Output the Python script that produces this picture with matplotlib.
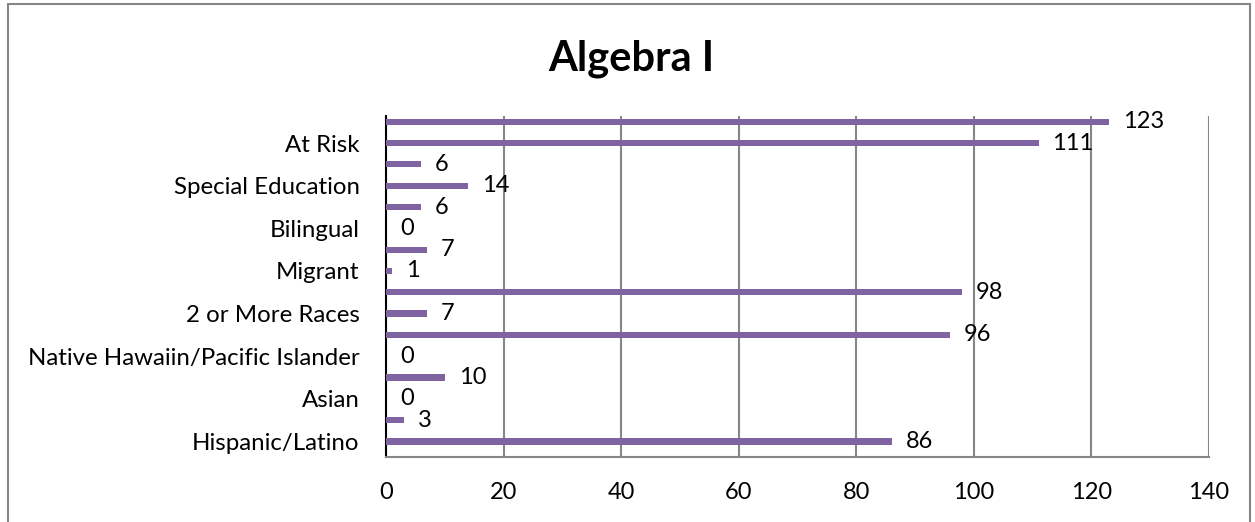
import numpy as np
import matplotlib.pyplot as plt
from matplotlib.patches import Rectangle

# bottom to top, Excel only shows every other category label
labels = ['Hispanic/Latino', '', 'Asian', '', 'Native Hawaiin/Pacific Islander', '',
          '2 or More Races', '', 'Migrant', '', 'Bilingual', '', 'Special Education', '',
          'At Risk', '']
values = [86, 3, 0, 10, 0, 96, 7, 98, 1, 7, 0, 6, 14, 6, 111, 123]
xticks = [0, 20, 40, 60, 80, 100, 120, 140]

plt.rcParams['font.family'] = ['Lato', 'DejaVu Sans']

fig = plt.figure(figsize=(12.55, 5.22), dpi=100)
ax = fig.add_axes([386/1255, 1-457/522, (1209-386)/1255, (457-116)/522])

y = np.arange(len(values))
bars = ax.barh(y, values, height=0.29, color='#8064A2', zorder=3)
ax.bar_label(bars, labels=[str(v) for v in values], padding=10, fontsize=17, color='black')

ax.set_xlim(0, 140)
# bars sit low in their bands in the original
ax.set_ylim(-0.73, len(values) - 0.73)
ax.set_xticks(xticks)
ax.set_yticks(y)
ax.set_yticklabels(labels)
ax.tick_params(axis='x', length=0, pad=18, labelsize=17)
ax.tick_params(axis='y', length=0, pad=19, labelsize=17.3)
ax.grid(axis='x', color='#868686', linewidth=1.5, zorder=0)
for s in ['top', 'right']:
    ax.spines[s].set_visible(False)
ax.spines['left'].set_color('black')
ax.spines['left'].set_linewidth(1.5)
ax.spines['bottom'].set_color('#868686')
ax.spines['bottom'].set_linewidth(1.5)

fig.text(631/1255, 1-70/522, 'Algebra I', ha='center', va='baseline', fontsize=30, fontweight='bold')

# chart area border
fig.patches.append(Rectangle((8/1255, -0.05), (1250-8)/1255, 1.05-4/522, transform=fig.transFigure,
                             fill=False, edgecolor='#868686', linewidth=1.5))

fig.savefig('out.png', dpi=100)
